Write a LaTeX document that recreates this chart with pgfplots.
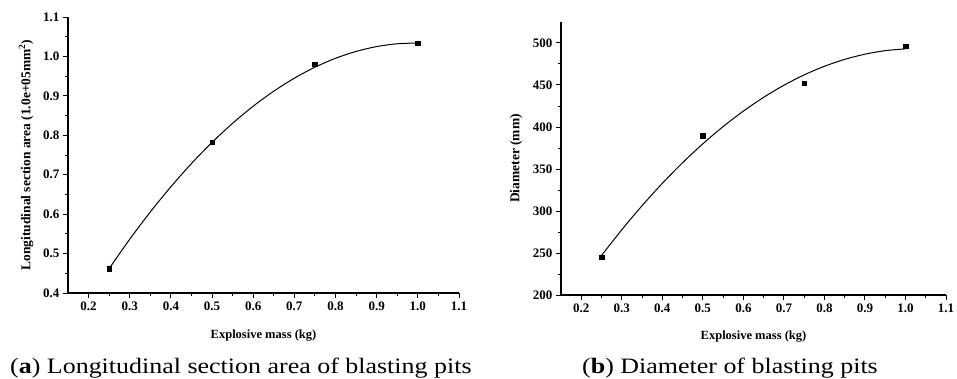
\documentclass[border=0pt]{standalone}
\usepackage{fontspec}
\setmainfont{Liberation Serif}
\usepackage{pgfplots}
\pgfplotsset{compat=1.18}
\begin{document}
\begin{tikzpicture}
\useasboundingbox (0pt,0pt) rectangle (957pt,378pt);
\pgfplotsset{
  myaxis/.style={
    scale only axis,
    axis lines=left,
    axis line style={line width=1.1pt,-},
    tick align=outside,
    tick style={line width=1pt,black},
    major tick length=5pt,
    minor tick length=3pt,
    minor tick num=1,
    xmin=0.15, xmax=1.1,
    xtick={0.2,0.3,0.4,0.5,0.6,0.7,0.8,0.9,1.0,1.1},
    /pgf/number format/assume math mode=true,
    /pgf/number format/.cd, fixed, fixed zerofill, precision=1, /pgfplots/.cd,
    tick label style={font=\fontsize{13}{13}\selectfont\bfseries},
    xlabel style={font=\fontsize{12.5}{12.5}\selectfont\bfseries, at={(axis description cs:0.5,0)}, anchor=base},
    ylabel style={font=\fontsize{13.5}{13.5}\selectfont\bfseries, anchor=center},
    clip=false,
  }
}
\begin{axis}[myaxis,
  at={(68pt,85pt)}, anchor=south west, width=391pt, height=276pt,
  ymin=0.4, ymax=1.1,
  ytick={0.4,0.5,0.6,0.7,0.8,0.9,1.0,1.1},
  xlabel={Explosive mass (kg)},
  xlabel style={yshift=-45pt},
  ylabel={Longitudinal section area (1.0e+05mm\textsuperscript{2})},
  ylabel style={at={(axis description cs:-0.1074,0.5)}},
]
\addplot[black, line width=1pt, smooth] coordinates {
(0.25,0.462) (0.30,0.5364) (0.35,0.6056) (0.40,0.6695) (0.45,0.7284)
(0.50,0.782) (0.55,0.8305) (0.60,0.8738) (0.65,0.9119) (0.70,0.9449)
(0.75,0.9727) (0.80,0.9953) (0.85,1.0127) (0.90,1.025) (0.95,1.0321) (1.00,1.034)};
\addplot[only marks, mark=square*, mark size=2.3pt, black] coordinates {
(0.25,0.462) (0.50,0.782) (0.75,0.980) (1.00,1.034)};
\end{axis}
\begin{axis}[myaxis,
  at={(561pt,83pt)}, anchor=south west, width=385pt, height=273pt,
  ymin=200, ymax=525,
  ytick={200,250,300,350,400,450,500},
  yticklabel style={/pgf/number format/.cd, fixed, precision=0, fixed zerofill=false},
  xlabel={Explosive mass (kg)},
  xlabel style={yshift=-44pt},
  ylabel={Diameter (mm)},
  ylabel style={at={(axis description cs:-0.1169,0.5)}},
]
\addplot[black, line width=1pt, smooth] coordinates {
(0.25,247) (0.30,277.7) (0.35,306.3) (0.40,332.9) (0.45,357.5)
(0.50,380) (0.55,400.5) (0.60,418.9) (0.65,435.3) (0.70,449.7)
(0.75,462) (0.80,472.3) (0.85,480.5) (0.90,486.7) (0.95,490.9) (1.00,493)};
\addplot[only marks, mark=square*, mark size=2.3pt, black] coordinates {
(0.25,245) (0.50,390) (0.75,452) (1.00,496)};
\end{axis}
\node[anchor=base west, inner sep=0pt] at (10pt,5pt) {\fontsize{22}{22}\selectfont\scalebox{1.18}[1]{(\textbf{a}) Longitudinal section area of blasting pits}};
\node[anchor=base west, inner sep=0pt] at (582pt,5pt) {\fontsize{22}{22}\selectfont\scalebox{1.18}[1]{(\textbf{b}) Diameter of blasting pits}};
\end{tikzpicture}
\end{document}
